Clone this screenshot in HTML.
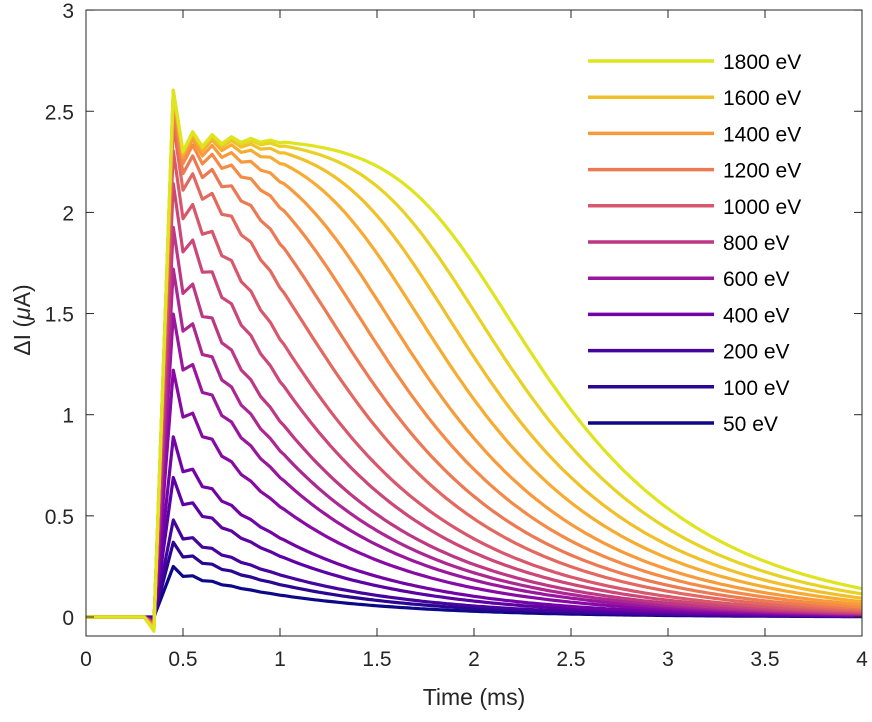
<!DOCTYPE html>
<html><head><meta charset="utf-8"><style>
html,body{margin:0;padding:0;background:#fff;}
svg{display:block;font-family:"Liberation Sans",Arial,sans-serif;}
</style></head><body>
<svg id="chart" width="872" height="722" viewBox="0 0 872 722" xmlns="http://www.w3.org/2000/svg">
<rect x="0" y="0" width="872" height="722" fill="#fff"/>
<g id="curves"></g>
<g id="axes"></g>
<g id="legend"></g>
<text x="474" y="705" font-size="23" text-anchor="middle" fill="#262626">Time (ms)</text>
<text transform="translate(30,320) rotate(-90)" font-size="23" text-anchor="middle" fill="#262626">ΔI (<tspan font-style="italic">μ</tspan>A)</text>
</svg>
<script>
// ---- data ----
const energies = [50,100,200,300,400,500,600,700,800,900,1000,1100,1200,1300,1400,1500,1600,1700,1800];
const amplitudes = [0.227,0.336,0.437,0.631,0.821,1.15,1.46,1.75,2.08,2.55,3.1,3.9,4.8,5.9,7.2,8.9,10.9,13.4,16.5];
const legendEnergies = [1800,1600,1400,1200,1000,800,600,400,200,100,50];
const xTicks = [0,0.5,1,1.5,2,2.5,3,3.5,4];
const xTickLabels = ["0","0.5","1","1.5","2","2.5","3","3.5","4"];
const yTicks = [0,0.5,1,1.5,2,2.5,3];
const yTickLabels = ["0","0.5","1","1.5","2","2.5","3"];

const L=86,R=862,T=10,B=636;
const X0=0,X1=4;
const yZero=617, yPer=202.3;
function sx(v){return L+(v-X0)/(X1-X0)*(R-L);}
function sy(v){return yZero - v*yPer;}

const stops=[[0,[13,8,135]],[0.1,[65,4,157]],[0.2,[106,0,168]],[0.3,[143,13,164]],[0.4,[177,42,144]],[0.5,[204,71,120]],[0.6,[225,100,98]],[0.7,[242,132,75]],[0.8,[250,160,54]],[0.9,[240,195,40]],[1,[222,228,30]]];
function plasma(f){for(let i=1;i<stops.length;i++){if(f<=stops[i][0]){const a=stops[i-1],b=stops[i];const u=(f-a[0])/(b[0]-a[0]);const c=a[1].map((v,k)=>Math.round(v+(b[1][k]-v)*u));return `rgb(${c[0]},${c[1]},${c[2]})`;}}return 'rgb(222,228,30)';}
function colorFor(i){return plasma(i/(energies.length-1));}

const NS="http://www.w3.org/2000/svg";
const S=2.37,tau=0.745,N=3;
function sat(s){return s/Math.pow(1+Math.pow(s/S,N),1/N);}
function model(t,s0,frac){
  if(t<0.349) return 0;
  if(t<0.351) return -0.07*frac;
  if(t<0.45) { const yp=sat(s0)*1.1; return -0.07*frac+(t-0.35)/0.1*(yp+0.07*frac); }
  const s=s0*Math.exp(-(t-0.45)/tau);
  let y=sat(s);
  const k=Math.round((t-0.45)/0.05);
  if(Math.abs(t-0.45-k*0.05)<1e-6 && k<12){
    let r=(k===0?0.1:(k%2?-0.07:0.045))*Math.exp(-k*0.05/0.2);
    if(k>0) r*= (1-0.5*Math.pow(y/S,4));
    y*=1+r;
  }
  return y;
}
const cg=document.getElementById('curves');
energies.forEach((E,i)=>{
  const s0=amplitudes[i];const frac=i/(energies.length-1);
  let pts=[];
  const ts=[];
  for(let t=0;t<=0.35001;t+=0.05) ts.push(+t.toFixed(3));
  for(let t=0.45;t<=1.0001;t+=0.05) ts.push(+t.toFixed(3));
  for(let t=1.02;t<=4.0001;t+=0.02) ts.push(+t.toFixed(3));
  ts.forEach(t=>pts.push(sx(t).toFixed(1)+','+sy(model(t,s0,frac)).toFixed(1)));
  const p=document.createElementNS(NS,'polyline');
  p.setAttribute('points',pts.join(' '));
  p.setAttribute('fill','none');p.setAttribute('stroke',colorFor(i));
  p.setAttribute('stroke-width','3.2');p.setAttribute('stroke-linejoin','round');
  
  
  cg.appendChild(p);
});

const ag=document.getElementById('axes');
function el(tag,attrs,parent){const e=document.createElementNS(NS,tag);for(const k in attrs)e.setAttribute(k,attrs[k]);parent.appendChild(e);return e;}
const box=el('rect',{x:L,y:T,width:R-L,height:B-T,fill:'none',stroke:'#262626','stroke-width':1},ag);


xTicks.forEach((v,i)=>{
  const x=sx(v);
  el('line',{x1:x,x2:x,y1:B,y2:B-8,stroke:'#262626'},ag);
  el('line',{x1:x,x2:x,y1:T,y2:T+8,stroke:'#262626'},ag);
  const t=el('text',{x:x,y:B+30,'font-size':21,'text-anchor':'middle',fill:'#262626'},ag);
  t.textContent=xTickLabels[i];
  
  
});
yTicks.forEach((v,i)=>{
  const y=sy(v);
  el('line',{x1:L,x2:L+8,y1:y,y2:y,stroke:'#262626'},ag);
  el('line',{x1:R,x2:R-8,y1:y,y2:y,stroke:'#262626'},ag);
  const t=el('text',{x:L-12,y:y+8,'font-size':21,'text-anchor':'end',fill:'#262626'},ag);
  t.textContent=yTickLabels[i];
  
  
});

const lg=document.getElementById('legend');
legendEnergies.forEach((E,j)=>{
  const i=energies.indexOf(E);
  const y=61+j*36.2;
  const g=el('g',{},lg);
  
  
  el('line',{x1:588,x2:714,y1:y,y2:y,stroke:colorFor(i),'stroke-width':3.5},g);
  const t=el('text',{x:723,y:y+8,'font-size':21,fill:'#000'},g);
  t.textContent=E+' eV';
});
</script>
</body></html>
